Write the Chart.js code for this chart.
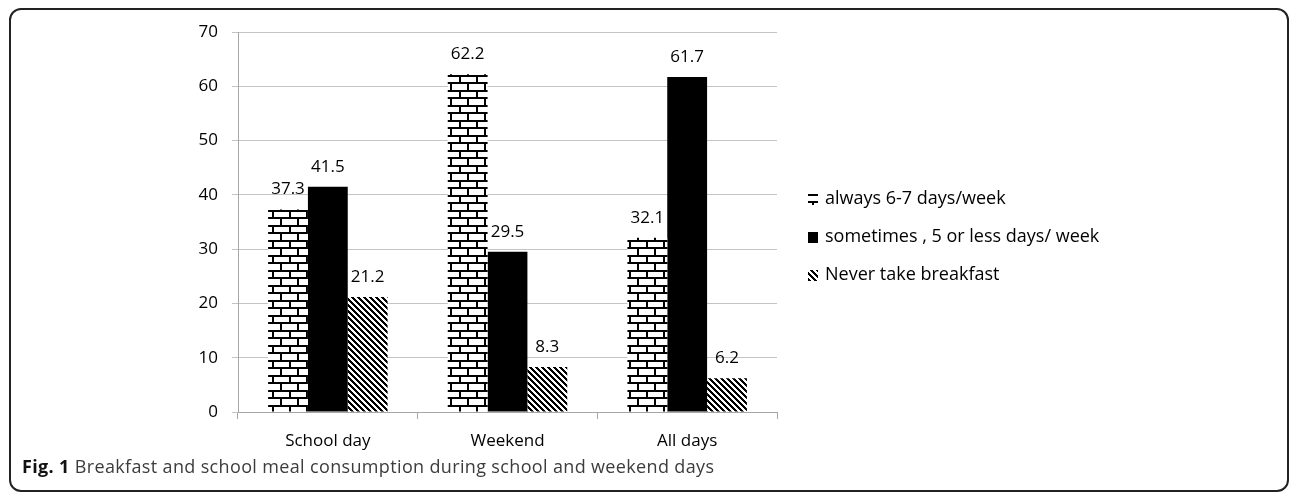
<!DOCTYPE html>
<html><head><meta charset="utf-8">
<script src="https://cdn.jsdelivr.net/npm/chart.js@4.4.1/dist/chart.umd.min.js"></script>
<style>
html,body{margin:0;padding:0;background:#fff;}
#wrap{position:relative;width:1290px;height:494px;overflow:hidden;}
#frame{position:absolute;left:9px;top:8px;width:1280px;height:484px;box-sizing:border-box;border:2px solid #222;border-radius:12px;}
canvas{position:absolute;left:0;top:0;}
#cap{position:absolute;left:22px;top:454px;font-family:"Open Sans";font-size:18px;letter-spacing:0.35px;color:#3c3c3c;white-space:nowrap;}
#cap b{color:#111;}
</style></head><body>
<div id="wrap"><div id="frame"></div><canvas id="c" width="1290" height="494"></canvas><div id="cap"><b>Fig. 1</b> Breakfast and school meal consumption during school and weekend days</div></div>
<script>
const categories = ['School day', 'Weekend', 'All days'];
const seriesLabels = ['always 6-7 days/week', 'sometimes , 5 or less days/ week', 'Never take breakfast'];
const alwaysValues = [37.3, 62.2, 32.1];
const sometimesValues = [41.5, 29.5, 61.7];
const neverValues = [21.2, 8.3, 6.2];
const yMin = 0, yMax = 70, yStep = 10;

const FONT = '"Open Sans", sans-serif';

function brickPattern() {
  const t = document.createElement('canvas');
  t.width = 17; t.height = 15;
  const g = t.getContext('2d');
  g.fillStyle = '#fff'; g.fillRect(0, 0, 17, 15);
  g.fillStyle = '#000';
  g.fillRect(0, 0, 17, 2);
  g.fillRect(0, 7, 17, 2);
  g.fillRect(0, 2, 2, 5);
  g.fillRect(8, 9, 2, 6);
  return g.createPattern(t, 'repeat');
}
function hatchPattern() {
  const s = 6;
  const t = document.createElement('canvas');
  t.width = s; t.height = s;
  const g = t.getContext('2d');
  g.fillStyle = '#fff'; g.fillRect(0, 0, s, s);
  g.fillStyle = '#000';
  for (let i = 0; i < s; i++) for (let j = 0; j < s; j++) {
    const d = ((i - j) % s + s) % s;
    if (d < 3) g.fillRect(i, j, 1, 1);
  }
  return g.createPattern(t, 'repeat');
}

const fills = [brickPattern(), '#000', hatchPattern()];

const valueLabels = {
  id: 'valueLabels',
  afterDatasetsDraw(chart) {
    const ctx = chart.ctx;
    ctx.save();
    ctx.font = '17px ' + FONT;
    ctx.fillStyle = '#000';
    ctx.textAlign = 'center';
    ctx.textBaseline = 'middle';
    chart.data.datasets.forEach((ds, di) => {
      const meta = chart.getDatasetMeta(di);
      meta.data.forEach((el, i) => {
        ctx.fillText(ds.data[i].toFixed(1), el.x, el.y - 20);
      });
    });
    ctx.restore();
  }
};

const sideLegend = {
  id: 'sideLegend',
  afterDraw(chart) {
    const ctx = chart.ctx;
    const rows = [199, 237, 275];
    ctx.save();
    ctx.font = '18px ' + FONT;
    ctx.textBaseline = 'middle';
    ctx.textAlign = 'left';
    chart.data.datasets.forEach((ds, di) => {
      const y = rows[di];
      ctx.save();
      ctx.translate(804, y - 5);
      ctx.fillStyle = ds.backgroundColor;
      ctx.fillRect(4, 0, 10, 11);
      ctx.restore();
      ctx.fillStyle = '#000';
      ctx.fillText(ds.label, 825, y);
    });
    ctx.restore();
  }
};

new Chart(document.getElementById('c'), {
  type: 'bar',
  data: {
    labels: categories,
    datasets: [
      { label: seriesLabels[0], data: alwaysValues, backgroundColor: fills[0], borderWidth: 0 },
      { label: seriesLabels[1], data: sometimesValues, backgroundColor: fills[1], borderWidth: 0 },
      { label: seriesLabels[2], data: neverValues, backgroundColor: fills[2], borderWidth: 0 }
    ]
  },
  options: {
    responsive: false,
    animation: false,
    devicePixelRatio: 1,
    layout: { padding: { left: 178, right: 513, top: 32, bottom: 42 } },
    datasets: { bar: { barPercentage: 1, categoryPercentage: 0.665 } },
    plugins: { legend: { display: false }, tooltip: { enabled: false } },
    scales: {
      x: {
        grid: { offset: true, drawOnChartArea: false, drawTicks: true, tickLength: 7, color: '#a6a6a6' },
        border: { color: '#a6a6a6', width: 1 },
        ticks: { font: { family: FONT, size: 17 }, color: '#000', padding: 12 },
        afterFit(s) { s.height = 40; }
      },
      y: {
        min: yMin, max: yMax,
        grid: { color: '#c4c4c4', tickLength: 6 },
        border: { color: '#a6a6a6', width: 1 },
        ticks: { stepSize: yStep, font: { family: FONT, size: 17 }, color: '#000', padding: 14 },
        afterFit(s) { s.width = 60; }
      }
    }
  },
  plugins: [valueLabels, sideLegend]
});
</script>
</body></html>
